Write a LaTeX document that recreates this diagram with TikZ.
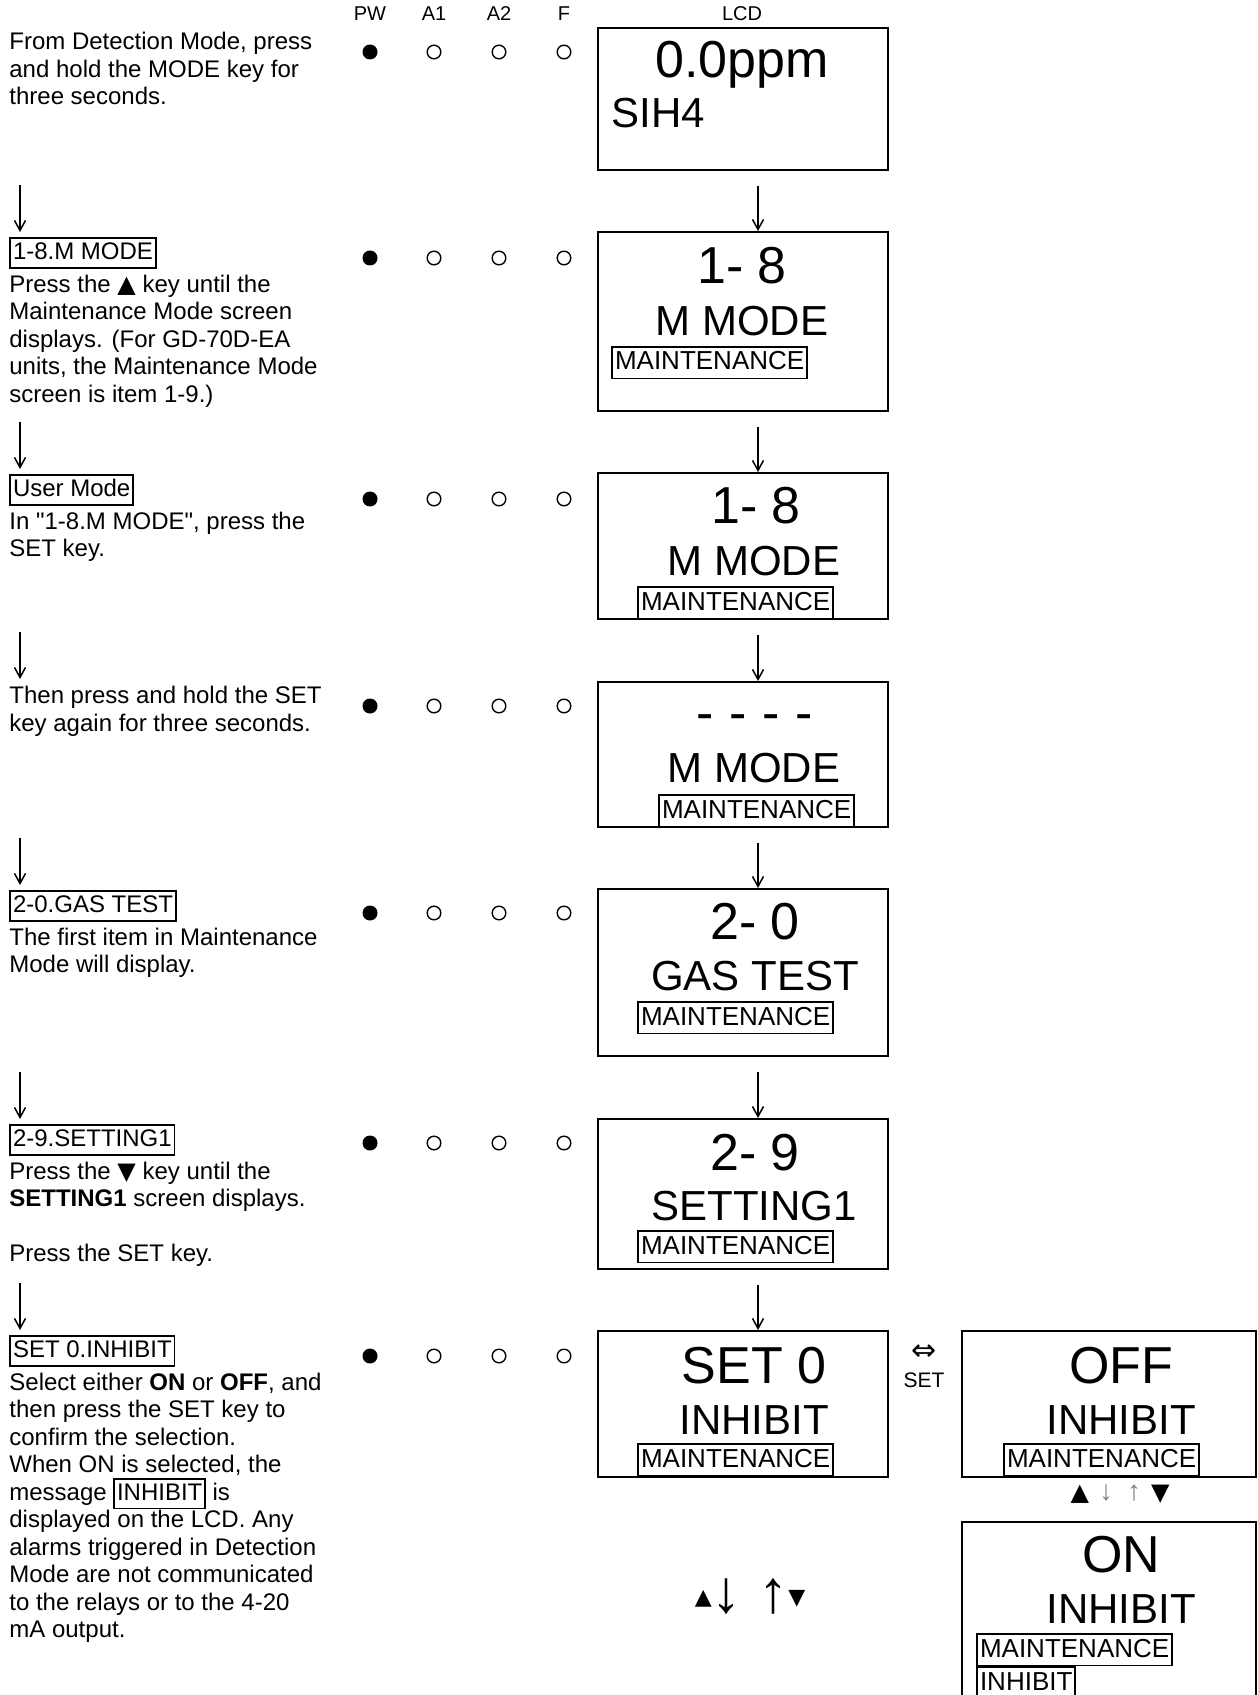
\documentclass[tikz,border=0pt]{standalone}
\usepackage{fontspec}
\setmainfont{Liberation Sans}
\newfontfamily\symfont{DejaVu Sans}
\newfontfamily\quotefont{Liberation Sans}
\usetikzlibrary{arrows.meta}

% framed screen name, as in the manual
\newcommand{\scrtag}[1]{{\setlength{\fboxsep}{1pt}\setlength{\fboxrule}{0.8pt}%
  \fbox{\rule[-0.22em]{0pt}{1em}#1}}}
\newcommand{\dq}{{\quotefont "}}
\lineskiplimit=-20pt

\begin{document}
\begin{tikzpicture}[
  x=0.5pt, y=-0.5pt,
  hdr/.style={anchor=base, inner sep=0pt, font=\fontsize{10}{12}\selectfont},
  steptxt/.style={anchor=north west, align=left, inner sep=0pt, font=\fontsize{12}{13.75}\selectfont},
  lcd/.style={draw=black, line width=1pt, anchor=north west, minimum width=145pt, inner sep=0pt},
  lcdtop/.style={anchor=base, inner sep=0pt, font=\fontsize{26}{30}\selectfont},
  lcdmid/.style={anchor=base, inner sep=0pt, font=\fontsize{21}{25}\selectfont},
  lcdtag/.style={anchor=base west, inner sep=0pt, font=\fontsize{13}{15}\selectfont},
  ledon/.style={circle, fill=black, inner sep=0pt, minimum size=7.5pt},
  ledoff/.style={circle, draw=black, line width=0.7pt, inner sep=0pt, minimum size=6.8pt},
  flow/.style={line width=0.75pt, -{Straight Barb[length=5pt,width=5.5pt]}}
]
  \useasboundingbox (0,0) rectangle (1257,1695);
  \clip (0,0) rectangle (1257,1695);

  % --- header row ---
  \node[hdr] (hpw)  at (370,21) {PW};
  \node[hdr] (ha1)  at (434,21) {A1};
  \node[hdr] (ha2)  at (499,21) {A2};
  \node[hdr] (hf)   at (564,21) {F};
  \node[hdr] (hlcd) at (742,21) {LCD};

  % --- step texts (left column) ---
  \node[steptxt] (txt1) at (9,30) {\strut From Detection Mode, press\\and hold the MODE key for\\three seconds.};
  \node[steptxt] (txt2) at (9,237) {\scrtag{1-8.M MODE}\\[2.5pt]Press the {\symfont ▲} key until the\\Maintenance Mode screen\\displays. (For GD-70D-EA\\units, the Maintenance Mode\\screen is item 1-9.)};
  \node[steptxt] (txt3) at (9,474) {\scrtag{User Mode}\\[2.5pt]In \dq1-8.M MODE\dq, press the\\SET key.};
  \node[steptxt] (txt4) at (9,684) {\strut Then press and hold the SET\\key again for three seconds.};
  \node[steptxt] (txt5) at (9,890) {\scrtag{2-0.GAS TEST}\\[2.5pt]The first item in Maintenance\\Mode will display.};
  \node[steptxt] (txt6) at (9,1124) {\scrtag{2-9.SETTING1}\\[2.5pt]Press the {\symfont ▼} key until the\\\textbf{SETTING1} screen displays.\\[13.75pt]Press the SET key.};
  \node[steptxt] (txt7) at (9,1335) {\scrtag{SET 0.INHIBIT}\\[2.5pt]Select either \textbf{ON} or \textbf{OFF}, and\\then press the SET key to\\confirm the selection.\\When ON is selected, the\\message \scrtag{INHIBIT} is\\displayed on the LCD. Any\\alarms triggered in Detection\\Mode are not communicated\\to the relays or to the 4-20\\mA output.};

  % left column arrows
  \draw[flow] ([xshift=5.5pt,yshift=26pt]txt2.north west) -- ([xshift=5.5pt,yshift=2.5pt]txt2.north west);
  \draw[flow] ([xshift=5.5pt,yshift=26pt]txt3.north west) -- ([xshift=5.5pt,yshift=2.5pt]txt3.north west);
  \draw[flow] ([xshift=5.5pt,yshift=26pt]txt4.north west) -- ([xshift=5.5pt,yshift=2.5pt]txt4.north west);
  \draw[flow] ([xshift=5.5pt,yshift=26pt]txt5.north west) -- ([xshift=5.5pt,yshift=2.5pt]txt5.north west);
  \draw[flow] ([xshift=5.5pt,yshift=26pt]txt6.north west) -- ([xshift=5.5pt,yshift=2.5pt]txt6.north west);
  \draw[flow] ([xshift=5.5pt,yshift=26pt]txt7.north west) -- ([xshift=5.5pt,yshift=2.5pt]txt7.north west);

  % --- LED rows: PW lit, A1 A2 F off ---
  \node[ledon]  (pw1) at (370,52) {};
  \node[ledoff] (ao1) at (434,52) {};
  \node[ledoff] (at1) at (499,52) {};
  \node[ledoff] (fl1) at (564,52) {};
  \node[ledon]  (pw2) at (370,258) {};
  \node[ledoff] (ao2) at (434,258) {};
  \node[ledoff] (at2) at (499,258) {};
  \node[ledoff] (fl2) at (564,258) {};
  \node[ledon]  (pw3) at (370,499) {};
  \node[ledoff] (ao3) at (434,499) {};
  \node[ledoff] (at3) at (499,499) {};
  \node[ledoff] (fl3) at (564,499) {};
  \node[ledon]  (pw4) at (370,706) {};
  \node[ledoff] (ao4) at (434,706) {};
  \node[ledoff] (at4) at (499,706) {};
  \node[ledoff] (fl4) at (564,706) {};
  \node[ledon]  (pw5) at (370,913) {};
  \node[ledoff] (ao5) at (434,913) {};
  \node[ledoff] (at5) at (499,913) {};
  \node[ledoff] (fl5) at (564,913) {};
  \node[ledon]  (pw6) at (370,1143) {};
  \node[ledoff] (ao6) at (434,1143) {};
  \node[ledoff] (at6) at (499,1143) {};
  \node[ledoff] (fl6) at (564,1143) {};
  \node[ledon]  (pw7) at (370,1356) {};
  \node[ledoff] (ao7) at (434,1356) {};
  \node[ledoff] (at7) at (499,1356) {};
  \node[ledoff] (fl7) at (564,1356) {};

  % --- LCD screens ---
  \node[lcd, minimum height=71pt]   (lcd1) at (597,27) {};
  \node[lcd, minimum height=89.5pt] (lcd2) at (597,231) {};
  \node[lcd, minimum height=73pt]   (lcd3) at (597,472) {};
  \node[lcd, minimum height=72.5pt] (lcd4) at (597,681) {};
  \node[lcd, minimum height=83.5pt] (lcd5) at (597,888) {};
  \node[lcd, minimum height=75pt]   (lcd6) at (597,1118) {};
  \node[lcd, minimum height=73pt]   (lcd7) at (597,1330) {};
  \node[lcd, minimum width=147pt, minimum height=73pt]  (lcdoff) at (961,1330) {};
  \node[lcd, minimum width=147pt, minimum height=100pt] (lcdon)  at (961,1521) {};

  % screen contents
  \node[lcdtop] (s1a) at (742,78) {0.0ppm};
  \node[lcdmid, anchor=base west] (s1b) at (611,128) {SIH4};

  \node[lcdtop] (s2a) at (742,284) {1- 8};
  \node[lcdmid] (s2b) at (742,336) {M MODE};
  \node[lcdtag] (s2c) at (611,370) {\scrtag{MAINTENANCE}};

  \node[lcdtop] (s3a) at (756,523) {1- 8};
  \node[lcdmid] (s3b) at (754,575) {M MODE};
  \node[lcdtag] (s3c) at (637,610) {\scrtag{MAINTENANCE}};

  \node[lcdtop] (s4a) at (755,730) {-\hspace{0.3em}-\hspace{0.3em}-\hspace{0.3em}-};
  \node[lcdmid] (s4b) at (754,782) {M MODE};
  \node[lcdtag] (s4c) at (658,818) {\scrtag{MAINTENANCE}};

  \node[lcdtop] (s5a) at (755,939) {2- 0};
  \node[lcdmid] (s5b) at (755,990) {GAS TEST};
  \node[lcdtag] (s5c) at (637,1025) {\scrtag{MAINTENANCE}};

  \node[lcdtop] (s6a) at (755,1170) {2- 9};
  \node[lcdmid] (s6b) at (754,1220) {SETTING1};
  \node[lcdtag] (s6c) at (637,1254) {\scrtag{MAINTENANCE}};

  \node[lcdtop] (s7a) at (754,1383) {SET 0};
  \node[lcdmid] (s7b) at (754,1434) {INHIBIT};
  \node[lcdtag] (s7c) at (637,1467) {\scrtag{MAINTENANCE}};

  \node[lcdtop] (offa) at (1121,1383) {OFF};
  \node[lcdmid] (offb) at (1121,1434) {INHIBIT};
  \node[lcdtag] (offc) at (1003,1467) {\scrtag{MAINTENANCE}};

  \node[lcdtop] (ona) at (1121,1572) {ON};
  \node[lcdmid] (onb) at (1121,1623) {INHIBIT};
  \node[lcdtag] (onc) at (976,1657) {\scrtag{MAINTENANCE}};
  \node[lcdtag] (ond) at (976,1690) {\scrtag{INHIBIT}};

  % right column arrows
  \draw[flow] ([xshift=7.5pt,yshift=-7.5pt]lcd1.south) -- ([xshift=7.5pt]lcd2.north);
  \draw[flow] ([xshift=7.5pt,yshift=-7.5pt]lcd2.south) -- ([xshift=7.5pt]lcd3.north);
  \draw[flow] ([xshift=7.5pt,yshift=-7.5pt]lcd3.south) -- ([xshift=7.5pt]lcd4.north);
  \draw[flow] ([xshift=7.5pt,yshift=-7.5pt]lcd4.south) -- ([xshift=7.5pt]lcd5.north);
  \draw[flow] ([xshift=7.5pt,yshift=-7.5pt]lcd5.south) -- ([xshift=7.5pt]lcd6.north);
  \draw[flow] ([xshift=7.5pt,yshift=-7.5pt]lcd6.south) -- ([xshift=7.5pt]lcd7.north);

  % SET toggles between the two screens
  \node[inner sep=0pt, font=\fontsize{15}{15}\selectfont\symfont] (swap) at (924,1353) {⇔};
  \node[hdr, font=\fontsize{10.5}{12}\selectfont] (swapset) at (924,1387) {SET};

  % up/down keys
  \node[inner sep=0pt, font=\fontsize{14}{14}\selectfont] (updn) at (1120,1494)
    {{\fontsize{12}{12}\selectfont\symfont ▲}\hspace{5pt}{\color{gray}↓}\hspace{7pt}{\color{gray}↑}\hspace{5pt}{\fontsize{12}{12}\selectfont\symfont ▼}};
  \node[inner sep=0pt] (updn2) at (750,1597)
    {\raisebox{4pt}{\fontsize{11}{11}\selectfont\symfont ▲}{\fontsize{30}{30}\selectfont ↓\ ↑}\raisebox{4pt}{\fontsize{11}{11}\selectfont\symfont ▼}};
\end{tikzpicture}
\end{document}
